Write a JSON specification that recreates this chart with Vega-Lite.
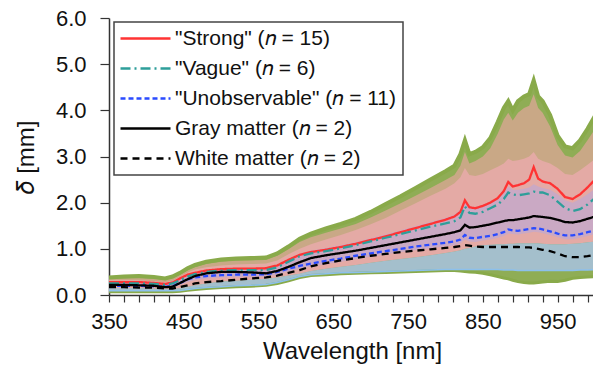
{
  "$schema": "https://vega.github.io/schema/vega-lite/v6.json",
  "width": 486,
  "height": 277,
  "autosize": "none",
  "padding": {"left": 109, "top": 18, "right": 0, "bottom": 77},
  "config": {
    "font": "Liberation Sans",
    "view": {"stroke": null},
    "axis": {"grid": false, "domainColor": "#333", "domainWidth": 1.5, "tickColor": "#333", "tickWidth": 1.2, "labelColor": "#111", "titleColor": "#111", "labelFontSize": 22, "titleFontSize": 24, "titleFontWeight": "normal"},
    "legend": {"orient": "none", "legendX": 5, "legendY": 4, "title": null, "strokeColor": "#444", "strokeWidth": 1.5, "fillColor": "white", "padding": 6, "labelFontSize": 21, "labelColor": "#111", "symbolOffset": 15, "labelOffset": 19, "rowPadding": 8, "symbolStrokeWidth": 2.3, "symbolType": "M-5,0L5,0", "symbolSize": 100, "labelLimit": 400}
  },
  "datasets": {
    "b": [
      {"w":350,"strong":0.28,"vague":0.25,"unobs":0.20,"gray":0.22,"white":0.17,"gh":0.38,"ph":0.35,"lp":0.32,"lvh":0.27,"lvl":0.19,"pl":0.15,"bl":0.09,"gl":0.07},
      {"w":370,"strong":0.28,"vague":0.25,"unobs":0.20,"gray":0.22,"white":0.17,"gh":0.40,"ph":0.36,"lp":0.32,"lvh":0.27,"lvl":0.19,"pl":0.15,"bl":0.09,"gl":0.07},
      {"w":390,"strong":0.28,"vague":0.25,"unobs":0.20,"gray":0.21,"white":0.16,"gh":0.41,"ph":0.37,"lp":0.32,"lvh":0.27,"lvl":0.19,"pl":0.15,"bl":0.09,"gl":0.07},
      {"w":410,"strong":0.26,"vague":0.24,"unobs":0.19,"gray":0.20,"white":0.16,"gh":0.39,"ph":0.35,"lp":0.30,"lvh":0.25,"lvl":0.18,"pl":0.14,"bl":0.09,"gl":0.07},
      {"w":425,"strong":0.24,"vague":0.22,"unobs":0.18,"gray":0.17,"white":0.14,"gh":0.36,"ph":0.33,"lp":0.28,"lvh":0.23,"lvl":0.16,"pl":0.13,"bl":0.09,"gl":0.07},
      {"w":435,"strong":0.27,"vague":0.25,"unobs":0.19,"gray":0.18,"white":0.14,"gh":0.40,"ph":0.37,"lp":0.31,"lvh":0.26,"lvl":0.17,"pl":0.13,"bl":0.09,"gl":0.07},
      {"w":445,"strong":0.36,"vague":0.32,"unobs":0.26,"gray":0.26,"white":0.17,"gh":0.48,"ph":0.44,"lp":0.40,"lvh":0.34,"lvl":0.22,"pl":0.15,"bl":0.10,"gl":0.08},
      {"w":455,"strong":0.44,"vague":0.40,"unobs":0.34,"gray":0.34,"white":0.21,"gh":0.58,"ph":0.53,"lp":0.49,"lvh":0.42,"lvl":0.28,"pl":0.18,"bl":0.12,"gl":0.10},
      {"w":465,"strong":0.48,"vague":0.45,"unobs":0.38,"gray":0.41,"white":0.25,"gh":0.65,"ph":0.60,"lp":0.55,"lvh":0.47,"lvl":0.32,"pl":0.21,"bl":0.14,"gl":0.12},
      {"w":480,"strong":0.53,"vague":0.50,"unobs":0.41,"gray":0.47,"white":0.28,"gh":0.72,"ph":0.67,"lp":0.60,"lvh":0.53,"lvl":0.36,"pl":0.25,"bl":0.16,"gl":0.14},
      {"w":500,"strong":0.56,"vague":0.53,"unobs":0.43,"gray":0.50,"white":0.30,"gh":0.77,"ph":0.72,"lp":0.64,"lvh":0.57,"lvl":0.38,"pl":0.29,"bl":0.18,"gl":0.16},
      {"w":520,"strong":0.57,"vague":0.54,"unobs":0.44,"gray":0.50,"white":0.33,"gh":0.79,"ph":0.74,"lp":0.66,"lvh":0.58,"lvl":0.39,"pl":0.31,"bl":0.20,"gl":0.18},
      {"w":540,"strong":0.57,"vague":0.54,"unobs":0.44,"gray":0.49,"white":0.36,"gh":0.80,"ph":0.75,"lp":0.67,"lvh":0.58,"lvl":0.39,"pl":0.33,"bl":0.21,"gl":0.19},
      {"w":560,"strong":0.58,"vague":0.54,"unobs":0.45,"gray":0.47,"white":0.38,"gh":0.81,"ph":0.76,"lp":0.68,"lvh":0.59,"lvl":0.40,"pl":0.35,"bl":0.23,"gl":0.21},
      {"w":575,"strong":0.64,"vague":0.60,"unobs":0.50,"gray":0.52,"white":0.42,"gh":0.90,"ph":0.85,"lp":0.75,"lvh":0.65,"lvl":0.44,"pl":0.38,"bl":0.27,"gl":0.25},
      {"w":590,"strong":0.76,"vague":0.72,"unobs":0.57,"gray":0.61,"white":0.48,"gh":1.05,"ph":0.99,"lp":0.88,"lvh":0.77,"lvl":0.51,"pl":0.42,"bl":0.33,"gl":0.31},
      {"w":605,"strong":0.87,"vague":0.84,"unobs":0.63,"gray":0.71,"white":0.54,"gh":1.22,"ph":1.15,"lp":1.00,"lvh":0.89,"lvl":0.57,"pl":0.46,"bl":0.40,"gl":0.38},
      {"w":620,"strong":0.93,"vague":0.90,"unobs":0.68,"gray":0.80,"white":0.62,"gh":1.33,"ph":1.25,"lp":1.10,"lvh":0.96,"lvl":0.62,"pl":0.52,"bl":0.44,"gl":0.42},
      {"w":640,"strong":0.98,"vague":0.95,"unobs":0.74,"gray":0.86,"white":0.69,"gh":1.44,"ph":1.35,"lp":1.20,"lvh":1.02,"lvl":0.67,"pl":0.57,"bl":0.46,"gl":0.44},
      {"w":660,"strong":1.04,"vague":1.01,"unobs":0.79,"gray":0.91,"white":0.75,"gh":1.54,"ph":1.44,"lp":1.30,"lvh":1.08,"lvl":0.72,"pl":0.61,"bl":0.48,"gl":0.46},
      {"w":680,"strong":1.11,"vague":1.08,"unobs":0.85,"gray":0.96,"white":0.80,"gh":1.65,"ph":1.54,"lp":1.41,"lvh":1.15,"lvl":0.78,"pl":0.65,"bl":0.49,"gl":0.47},
      {"w":700,"strong":1.19,"vague":1.16,"unobs":0.90,"gray":1.02,"white":0.85,"gh":1.80,"ph":1.68,"lp":1.53,"lvh":1.23,"lvl":0.83,"pl":0.70,"bl":0.50,"gl":0.48},
      {"w":720,"strong":1.27,"vague":1.24,"unobs":0.95,"gray":1.08,"white":0.89,"gh":1.97,"ph":1.83,"lp":1.67,"lvh":1.31,"lvl":0.88,"pl":0.74,"bl":0.51,"gl":0.49},
      {"w":740,"strong":1.36,"vague":1.32,"unobs":1.00,"gray":1.14,"white":0.93,"gh":2.14,"ph":1.99,"lp":1.83,"lvh":1.40,"lvl":0.93,"pl":0.78,"bl":0.52,"gl":0.50},
      {"w":760,"strong":1.45,"vague":1.40,"unobs":1.05,"gray":1.20,"white":0.96,"gh":2.32,"ph":2.15,"lp":1.99,"lvh":1.49,"lvl":0.97,"pl":0.82,"bl":0.53,"gl":0.51},
      {"w":780,"strong":1.54,"vague":1.48,"unobs":1.09,"gray":1.26,"white":0.99,"gh":2.50,"ph":2.32,"lp":2.15,"lvh":1.58,"lvl":1.01,"pl":0.86,"bl":0.54,"gl":0.52},
      {"w":800,"strong":1.63,"vague":1.55,"unobs":1.13,"gray":1.32,"white":1.02,"gh":2.68,"ph":2.49,"lp":2.30,"lvh":1.67,"lvl":1.05,"pl":0.91,"bl":0.55,"gl":0.53},
      {"w":812,"strong":1.70,"vague":1.60,"unobs":1.16,"gray":1.36,"white":1.04,"gh":2.80,"ph":2.60,"lp":2.42,"lvh":1.74,"lvl":1.08,"pl":0.94,"bl":0.55,"gl":0.53},
      {"w":820,"strong":1.80,"vague":1.68,"unobs":1.20,"gray":1.40,"white":1.06,"gh":3.05,"ph":2.80,"lp":2.55,"lvh":1.84,"lvl":1.12,"pl":0.97,"bl":0.55,"gl":0.52},
      {"w":826,"strong":2.05,"vague":1.92,"unobs":1.30,"gray":1.52,"white":1.08,"gh":3.35,"ph":3.10,"lp":2.75,"lvh":2.05,"lvl":1.20,"pl":1.00,"bl":0.55,"gl":0.51},
      {"w":832,"strong":1.90,"vague":1.78,"unobs":1.24,"gray":1.46,"white":1.07,"gh":3.05,"ph":2.85,"lp":2.60,"lvh":1.92,"lvl":1.16,"pl":1.02,"bl":0.55,"gl":0.50},
      {"w":840,"strong":1.88,"vague":1.76,"unobs":1.23,"gray":1.47,"white":1.05,"gh":3.10,"ph":2.90,"lp":2.58,"lvh":1.90,"lvl":1.15,"pl":1.05,"bl":0.55,"gl":0.49},
      {"w":850,"strong":1.93,"vague":1.80,"unobs":1.26,"gray":1.50,"white":1.04,"gh":3.20,"ph":3.00,"lp":2.62,"lvh":1.95,"lvl":1.18,"pl":1.08,"bl":0.55,"gl":0.47},
      {"w":860,"strong":2.00,"vague":1.88,"unobs":1.28,"gray":1.53,"white":1.04,"gh":3.40,"ph":3.18,"lp":2.70,"lvh":2.02,"lvl":1.20,"pl":1.09,"bl":0.55,"gl":0.44},
      {"w":870,"strong":2.10,"vague":1.96,"unobs":1.32,"gray":1.57,"white":1.04,"gh":3.75,"ph":3.50,"lp":2.78,"lvh":2.10,"lvl":1.24,"pl":1.10,"bl":0.55,"gl":0.40},
      {"w":878,"strong":2.25,"vague":2.08,"unobs":1.36,"gray":1.60,"white":1.04,"gh":4.05,"ph":3.80,"lp":2.85,"lvh":2.20,"lvl":1.28,"pl":1.10,"bl":0.54,"gl":0.37},
      {"w":884,"strong":2.45,"vague":2.22,"unobs":1.42,"gray":1.62,"white":1.04,"gh":4.20,"ph":3.95,"lp":2.95,"lvh":2.35,"lvl":1.33,"pl":1.11,"bl":0.54,"gl":0.35},
      {"w":890,"strong":2.35,"vague":2.18,"unobs":1.40,"gray":1.62,"white":1.04,"gh":4.00,"ph":3.78,"lp":2.90,"lvh":2.28,"lvl":1.32,"pl":1.11,"bl":0.54,"gl":0.32},
      {"w":897,"strong":2.38,"vague":2.16,"unobs":1.39,"gray":1.64,"white":1.04,"gh":4.20,"ph":3.95,"lp":2.92,"lvh":2.28,"lvl":1.31,"pl":1.12,"bl":0.53,"gl":0.29},
      {"w":905,"strong":2.42,"vague":2.18,"unobs":1.41,"gray":1.66,"white":1.03,"gh":4.30,"ph":4.05,"lp":2.95,"lvh":2.30,"lvl":1.33,"pl":1.12,"bl":0.53,"gl":0.27},
      {"w":912,"strong":2.50,"vague":2.20,"unobs":1.43,"gray":1.68,"white":1.03,"gh":4.35,"ph":4.10,"lp":3.00,"lvh":2.33,"lvl":1.35,"pl":1.12,"bl":0.53,"gl":0.26},
      {"w":918,"strong":2.77,"vague":2.24,"unobs":1.45,"gray":1.71,"white":1.02,"gh":4.65,"ph":4.35,"lp":3.10,"lvh":2.40,"lvl":1.37,"pl":1.12,"bl":0.53,"gl":0.26},
      {"w":924,"strong":2.52,"vague":2.22,"unobs":1.44,"gray":1.70,"white":1.00,"gh":4.30,"ph":4.05,"lp":2.95,"lvh":2.35,"lvl":1.36,"pl":1.12,"bl":0.53,"gl":0.27},
      {"w":930,"strong":2.46,"vague":2.22,"unobs":1.42,"gray":1.69,"white":0.98,"gh":4.20,"ph":3.95,"lp":2.90,"lvh":2.32,"lvl":1.34,"pl":1.11,"bl":0.53,"gl":0.28},
      {"w":940,"strong":2.42,"vague":2.16,"unobs":1.38,"gray":1.67,"white":0.95,"gh":3.90,"ph":3.65,"lp":2.85,"lvh":2.28,"lvl":1.30,"pl":1.10,"bl":0.53,"gl":0.30},
      {"w":950,"strong":2.30,"vague":2.02,"unobs":1.33,"gray":1.63,"white":0.90,"gh":3.45,"ph":3.25,"lp":2.75,"lvh":2.18,"lvl":1.25,"pl":1.10,"bl":0.53,"gl":0.29},
      {"w":960,"strong":2.12,"vague":1.88,"unobs":1.29,"gray":1.58,"white":0.84,"gh":3.22,"ph":3.02,"lp":2.62,"lvh":2.05,"lvl":1.21,"pl":1.10,"bl":0.53,"gl":0.32},
      {"w":970,"strong":2.08,"vague":1.82,"unobs":1.29,"gray":1.57,"white":0.82,"gh":3.18,"ph":2.98,"lp":2.60,"lvh":2.00,"lvl":1.21,"pl":1.11,"bl":0.53,"gl":0.36},
      {"w":980,"strong":2.18,"vague":1.86,"unobs":1.32,"gray":1.60,"white":0.82,"gh":3.35,"ph":3.12,"lp":2.70,"lvh":2.08,"lvl":1.24,"pl":1.12,"bl":0.54,"gl":0.38},
      {"w":990,"strong":2.33,"vague":1.96,"unobs":1.36,"gray":1.65,"white":0.84,"gh":3.60,"ph":3.35,"lp":2.82,"lvh":2.18,"lvl":1.28,"pl":1.14,"bl":0.54,"gl":0.39},
      {"w":1000,"strong":2.50,"vague":2.10,"unobs":1.40,"gray":1.70,"white":0.87,"gh":3.88,"ph":3.60,"lp":2.95,"lvh":2.30,"lvl":1.32,"pl":1.16,"bl":0.55,"gl":0.40}
    ]
  },
  "data": {"name": "b"},
  "encoding": {
    "x": {"field": "w", "type": "quantitative", "scale": {"domain": [350, 1000], "nice": false, "zero": false},
      "axis": {"title": "Wavelength [nm]", "values": [350,370,390,410,430,450,470,490,510,530,550,570,590,610,630,650,670,690,710,730,750,770,790,810,830,850,870,890,910,930,950,970,990], "labelExpr": "(datum.value - 350) % 100 == 0 ? datum.label : ''", "tickSize": 7, "labelPadding": 9, "titlePadding": 7, "labelFlush": false, "labelOverlap": false}}
  },
  "layer": [
    {"mark": {"type": "area", "color": "#8fad55"},
     "encoding": {"y": {"field": "gl", "type": "quantitative", "scale": {"domain": [0, 6], "nice": false},
        "axis": {"title": "𝛿 [mm]", "values": [0,1,2,3,4,5,6], "format": ".1f", "tickSize": 9, "labelPadding": 14, "titlePadding": 17}},
       "y2": {"field": "gh"}}},
    {"mark": {"type": "area", "color": "#c9a886"}, "encoding": {"y": {"field": "pl", "type": "quantitative"}, "y2": {"field": "ph"}}},
    {"mark": {"type": "area", "color": "#e4aaa5"}, "encoding": {"y": {"field": "pl", "type": "quantitative"}, "y2": {"field": "lp"}}},
    {"mark": {"type": "area", "color": "#caa9c4"}, "encoding": {"y": {"field": "lvl", "type": "quantitative"}, "y2": {"field": "lvh"}}},
    {"mark": {"type": "area", "color": "#a4bfcc"}, "encoding": {"y": {"field": "bl", "type": "quantitative"}, "y2": {"field": "pl"}}},
    {"mark": {"type": "line", "color": "#89aa4a", "strokeWidth": 4}, "encoding": {"y": {"field": "gh", "type": "quantitative"}}},
    {"mark": {"type": "line", "color": "#89aa4a", "strokeWidth": 3}, "encoding": {"y": {"field": "gl", "type": "quantitative"}}},
    {"mark": {"type": "line", "color": "#8cc0ec", "strokeWidth": 1.5}, "encoding": {"y": {"field": "bl", "type": "quantitative"}}},
    {"transform": [{"fold": ["strong", "vague", "unobs", "gray", "white"], "as": ["s", "v"]}],
     "mark": {"type": "line", "strokeWidth": 2.3},
     "encoding": {
       "y": {"field": "v", "type": "quantitative"},
       "detail": {"field": "s"},
       "color": {"field": "s", "type": "nominal", "scale": {"domain": ["strong", "vague", "unobs", "gray", "white"], "range": ["#ff3333", "#2e9e9a", "#2a4bff", "#000000", "#000000"]},
         "legend": {"labelExpr": "datum.label == 'strong' ? '\"Strong\" (𝑛 = 15)' : datum.label == 'vague' ? '\"Vague\" (𝑛 = 6)' : datum.label == 'unobs' ? '\"Unobservable\" (𝑛 = 11)' : datum.label == 'gray' ? 'Gray matter (𝑛 = 2)' : 'White matter (𝑛 = 2)'"}},
       "strokeDash": {"field": "s", "type": "nominal", "scale": {"domain": ["strong", "vague", "unobs", "gray", "white"], "range": [[1, 0], [10, 4, 2, 4], [5, 3], [1, 0], [7, 5]]},
         "legend": {"labelExpr": "datum.label == 'strong' ? '\"Strong\" (𝑛 = 15)' : datum.label == 'vague' ? '\"Vague\" (𝑛 = 6)' : datum.label == 'unobs' ? '\"Unobservable\" (𝑛 = 11)' : datum.label == 'gray' ? 'Gray matter (𝑛 = 2)' : 'White matter (𝑛 = 2)'"}}
     }}
  ]
}
